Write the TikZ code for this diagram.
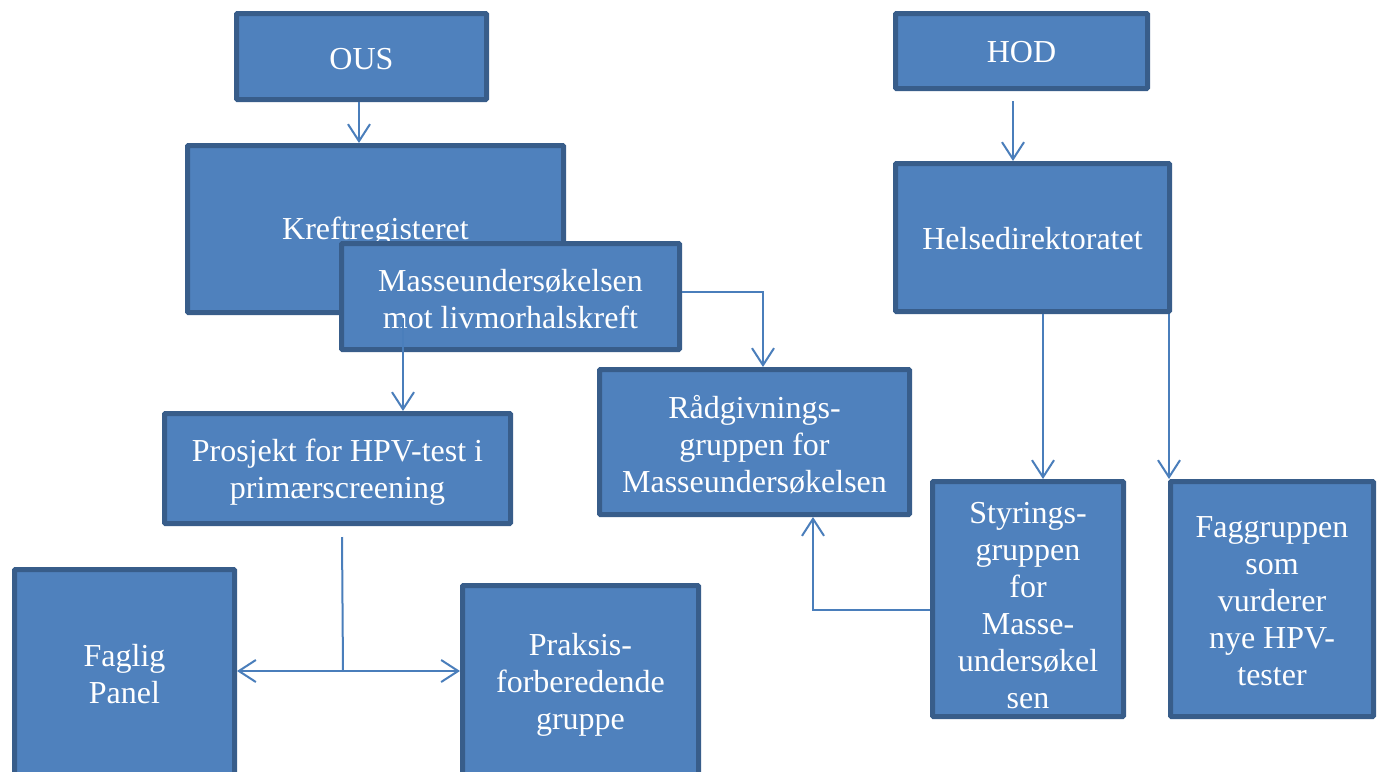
\documentclass[tikz,border=0pt]{standalone}
\usepackage{fontspec}
\setmainfont{Liberation Serif}
\usetikzlibrary{arrows.meta}
\definecolor{boxfill}{HTML}{4F81BD}
\definecolor{boxline}{HTML}{385D8A}
\definecolor{conn}{HTML}{4A7EBB}
\newcommand{\dn}[1]{\rule{0pt}{#1pt}}
\begin{document}
\begin{tikzpicture}[x=1pt,y=-1pt,
  box/.style={draw=boxline, fill=boxfill, line width=5pt, inner sep=0pt, align=center,
    text=white, font=\fontsize{32}{37}\selectfont, rounded corners=1pt},
  arr/.style={draw=conn, line width=2pt, -{Straight Barb[length=17pt,width=22pt]}},
  arrb/.style={draw=conn, line width=2pt, {Straight Barb[length=17pt,width=22pt]}-{Straight Barb[length=17pt,width=22pt]}},
  plain/.style={draw=conn, line width=2pt}]
\useasboundingbox (0,0) rectangle (1381,771);
\clip (0,0) rectangle (1381,771);
\fill[white] (0,0) rectangle (1381,771);
% boxes
\node[box, minimum width=250pt, minimum height=86pt] (ous) at (361.5,56.5) {\dn{27}OUS};
\node[box, minimum width=376pt, minimum height=167pt] (kreft) at (375.5,229) {\dn{28}Kreftregisteret};
\node[box, minimum width=338pt, minimum height=106pt] (masse) at (510.5,296.5) {\dn{28}Masseundersøkelsen\\mot livmorhalskreft};
\node[box, minimum width=346pt, minimum height=110pt] (prosjekt) at (337.5,468.5) {\dn{29}Prosjekt for HPV-test i\\primærscreening};
\node[box, minimum width=220pt, minimum height=209pt] (faglig) at (124.5,674) {Faglig\\Panel};
\node[box, minimum width=236pt, minimum height=193pt] (praksis) at (580.5,682) {\dn{28}Praksis-\\forberedende\\gruppe};
\node[box, minimum width=310pt, minimum height=145pt] (rad) at (754.5,442) {\dn{29}Rådgivnings-\\gruppen for\\Masseundersøkelsen};
\node[box, minimum width=252pt, minimum height=75pt] (hod) at (1021.5,51) {\dn{23}HOD};
\node[box, minimum width=274pt, minimum height=148pt] (helse) at (1032.5,237.5) {\dn{24}Helsedirektoratet};
\node[box, minimum width=191pt, minimum height=235pt] (styr) at (1028,599) {\dn{33.5}Styrings-\\gruppen\\for\\Masse-\\undersøkel\\sen};
\node[box, minimum width=203pt, minimum height=235pt] (fag) at (1272,599) {\dn{26}Faggruppen\\som\\vurderer\\nye HPV-\\tester};
% connectors
\coordinate (o1) at (359,102);
\draw[arr] (o1) -- (o1 |- kreft.north);
\coordinate (m2) at (763,292);
\draw[arr] (masse.east |- m2) -- (m2) -- (m2 |- rad.north);
\coordinate (m1) at (403,318);
\draw[arr] (m1) -- (m1 |- prosjekt.north);
\coordinate (p1) at (342,537);
\coordinate (p2) at (343,671);
\draw[plain] (p1) -- (p2);
\draw[arrb] (faglig.east |- p2) -- (praksis.west |- p2);
\coordinate (s1) at (813,610);
\draw[arr] (styr.west |- s1) -- (s1) -- (s1 |- rad.south);
\coordinate (h1) at (1013,101);
\draw[arr] (h1) -- (h1 |- helse.north);
\coordinate (h2) at (1043,314);
\draw[arr] (h2) -- (h2 |- styr.north);
\coordinate (h3) at (1169,314);
\draw[arr] (h3) -- (h3 |- fag.north);
\end{tikzpicture}
\end{document}
